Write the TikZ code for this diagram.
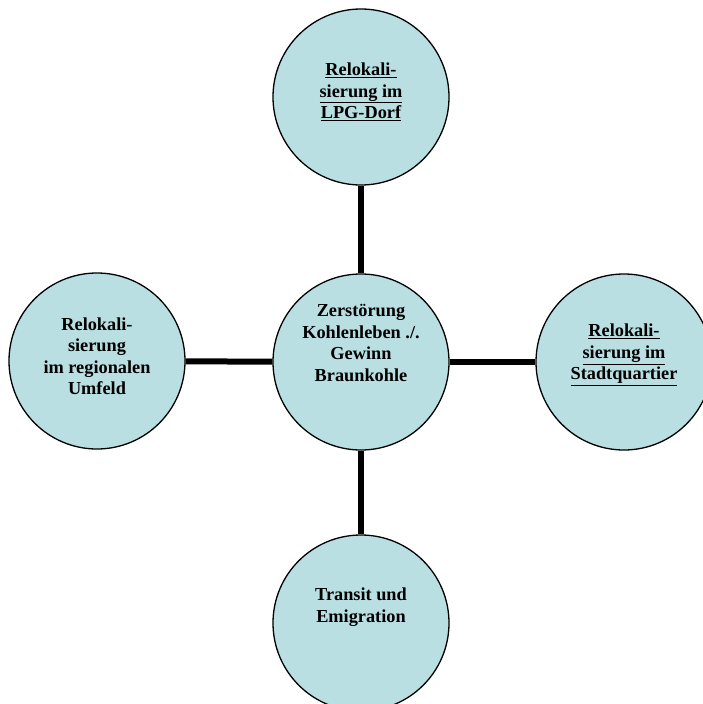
\documentclass[tikz,border=0pt]{standalone}
\usepackage{fontspec}
\setmainfont{Liberation Serif}
\definecolor{bubble}{RGB}{185,223,227}
\tikzset{
  bubble/.style={circle, draw=black, line width=1.3pt, fill=bubble, minimum size=176pt, inner sep=0pt},
  txt/.style={align=center, font=\bfseries\fontsize{18.3}{21.5}\selectfont, inner sep=0pt},
  link/.style={line width=6pt, draw=black}
}
\begin{document}
\begin{tikzpicture}[x=1pt,y=-1pt]
\useasboundingbox (0,0) rectangle (702,704);
\node[bubble] (top) at (361,97) {};
\node[bubble] (mid) at (361,362) {};
\node[bubble] (left) at (97,361) {};
\node[bubble] (right) at (624,362) {};
\node[bubble] (bot) at (361,623) {};
\draw[link] (top) -- (mid);
\draw[link] (mid) -- (bot);
\draw[link] (left) -- (mid);
\draw[link] (mid) -- (right);
\node[txt] (ttop) at (361,92) {\underline{Relokali-}\\\underline{sierung im}\\\underline{LPG-Dorf}};
\node[txt] (tmid) at (361,343) {Zerstörung\\Kohlenleben ./.\\Gewinn\\Braunkohle};
\node[txt] (tleft) at (97,356) {Relokali-\\sierung\\im regionalen\\Umfeld};
\node[txt] (tright) at (624,355) {\underline{Relokali-}\\\underline{sierung im}\\\underline{Stadtquartier}};
\node[txt] (tbot) at (361,607) {Transit und\\Emigration};
\end{tikzpicture}
\end{document}
